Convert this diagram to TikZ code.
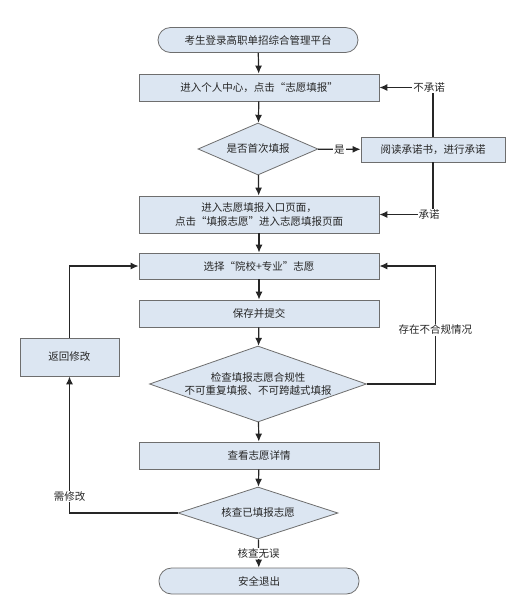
\documentclass[tikz,border=0pt]{standalone}
\usepackage{fontspec}
\newfontfamily\cjk{Noto Sans CJK SC}
\usepackage{tikz}
\usetikzlibrary{arrows.meta,shapes.geometric,positioning,calc}

\definecolor{boxfill}{HTML}{DCE6F2}
\definecolor{boxline}{HTML}{6E6E6E}
\definecolor{flowline}{HTML}{262626}

\tikzset{
	txt/.style={font=\cjk\fontsize{10.5}{13.5}\selectfont, text=black!85, align=center},
	stepbox/.style={txt, draw=boxline, fill=boxfill, line width=0.8pt, rectangle,
		minimum width=240pt, minimum height=27pt, inner sep=2pt},
	terminal/.style={stepbox, rounded corners=12.5pt, minimum width=200pt, minimum height=25pt},
	decision/.style={draw=boxline, fill=boxfill, line width=0.8pt, diamond, inner sep=0pt},
	flow/.style={draw=flowline, line width=1.2pt, -{Latex[length=8pt,width=7pt]}},
	lbl/.style={txt, fill=white, inner sep=1pt}
}

\begin{document}
\begin{tikzpicture}[x=1pt, y=-1pt]

	\useasboundingbox (0,0) rectangle (515,606);

	\node[terminal] (login) at (258,40) {考生登录高职单招综合管理平台};
	\node[stepbox] (center) at (259,87.5) {进入个人中心，点击“志愿填报”};
	\node[decision, minimum width=120pt, minimum height=52pt,
		label={[txt]center:是否首次填报}] (first) at (258,149) {};
	\node[stepbox, minimum width=144pt, minimum height=25pt] (promise) at (433,149.5) {阅读承诺书，进行承诺};
	\node[stepbox, minimum height=37pt] (portal) at (259,214.5) {进入志愿填报入口页面，\\点击“填报志愿”进入志愿填报页面};
	\node[stepbox, minimum height=26pt] (choose) at (259,266) {选择“院校+专业”志愿};
	\node[stepbox] (save) at (259,313.5) {保存并提交};
	\node[decision, minimum width=217pt, minimum height=76pt,
		label={[txt]center:检查填报志愿合规性\\不可重复填报、不可跨越式填报}] (rules) at (258,384) {};
	\node[stepbox] (detail) at (259,455.5) {查看志愿详情};
	\node[decision, minimum width=160pt, minimum height=52pt,
		label={[txt]center:核查已填报志愿}] (verify) at (258,513) {};
	\node[stepbox, minimum width=99pt, minimum height=38pt] (back) at (69.5,357) {返回修改};
	\node[terminal, minimum height=26pt] (logout) at (259,581) {安全退出};

	% main line
	\draw[flow] (login) -- (center);
	\draw[flow] (center) -- (first);
	\draw[flow] (first) -- (portal);
	\draw[flow] (first) -- node[lbl] {是} (promise);
	\draw[flow] (promise.north) |- node[lbl, pos=0.5, xshift=-4pt] {不承诺} (center.east);
	\draw[flow] (promise.south) |- node[lbl, pos=0.5, xshift=-4pt] {承诺} (portal.east);
	\draw[flow] (portal) -- (choose);
	\draw[flow] (choose) -- (save);
	\draw[flow] (save) -- (rules);
	\draw[flow] (rules) -- (detail);
	\draw[flow] (detail) -- (verify);
	\draw[flow] (verify) -- node[lbl] {核查无误} (logout);

	% loops back
	\draw[flow] (rules.east) -- ++(68.5,0) |- node[lbl, pos=0.23] {存在不合规情况} (choose.east);
	\draw[flow] (verify.west) -| node[lbl, pos=0.56] {需修改} (back.south);
	\draw[flow] (back.north) |- (choose.west);

\end{tikzpicture}
\end{document}
